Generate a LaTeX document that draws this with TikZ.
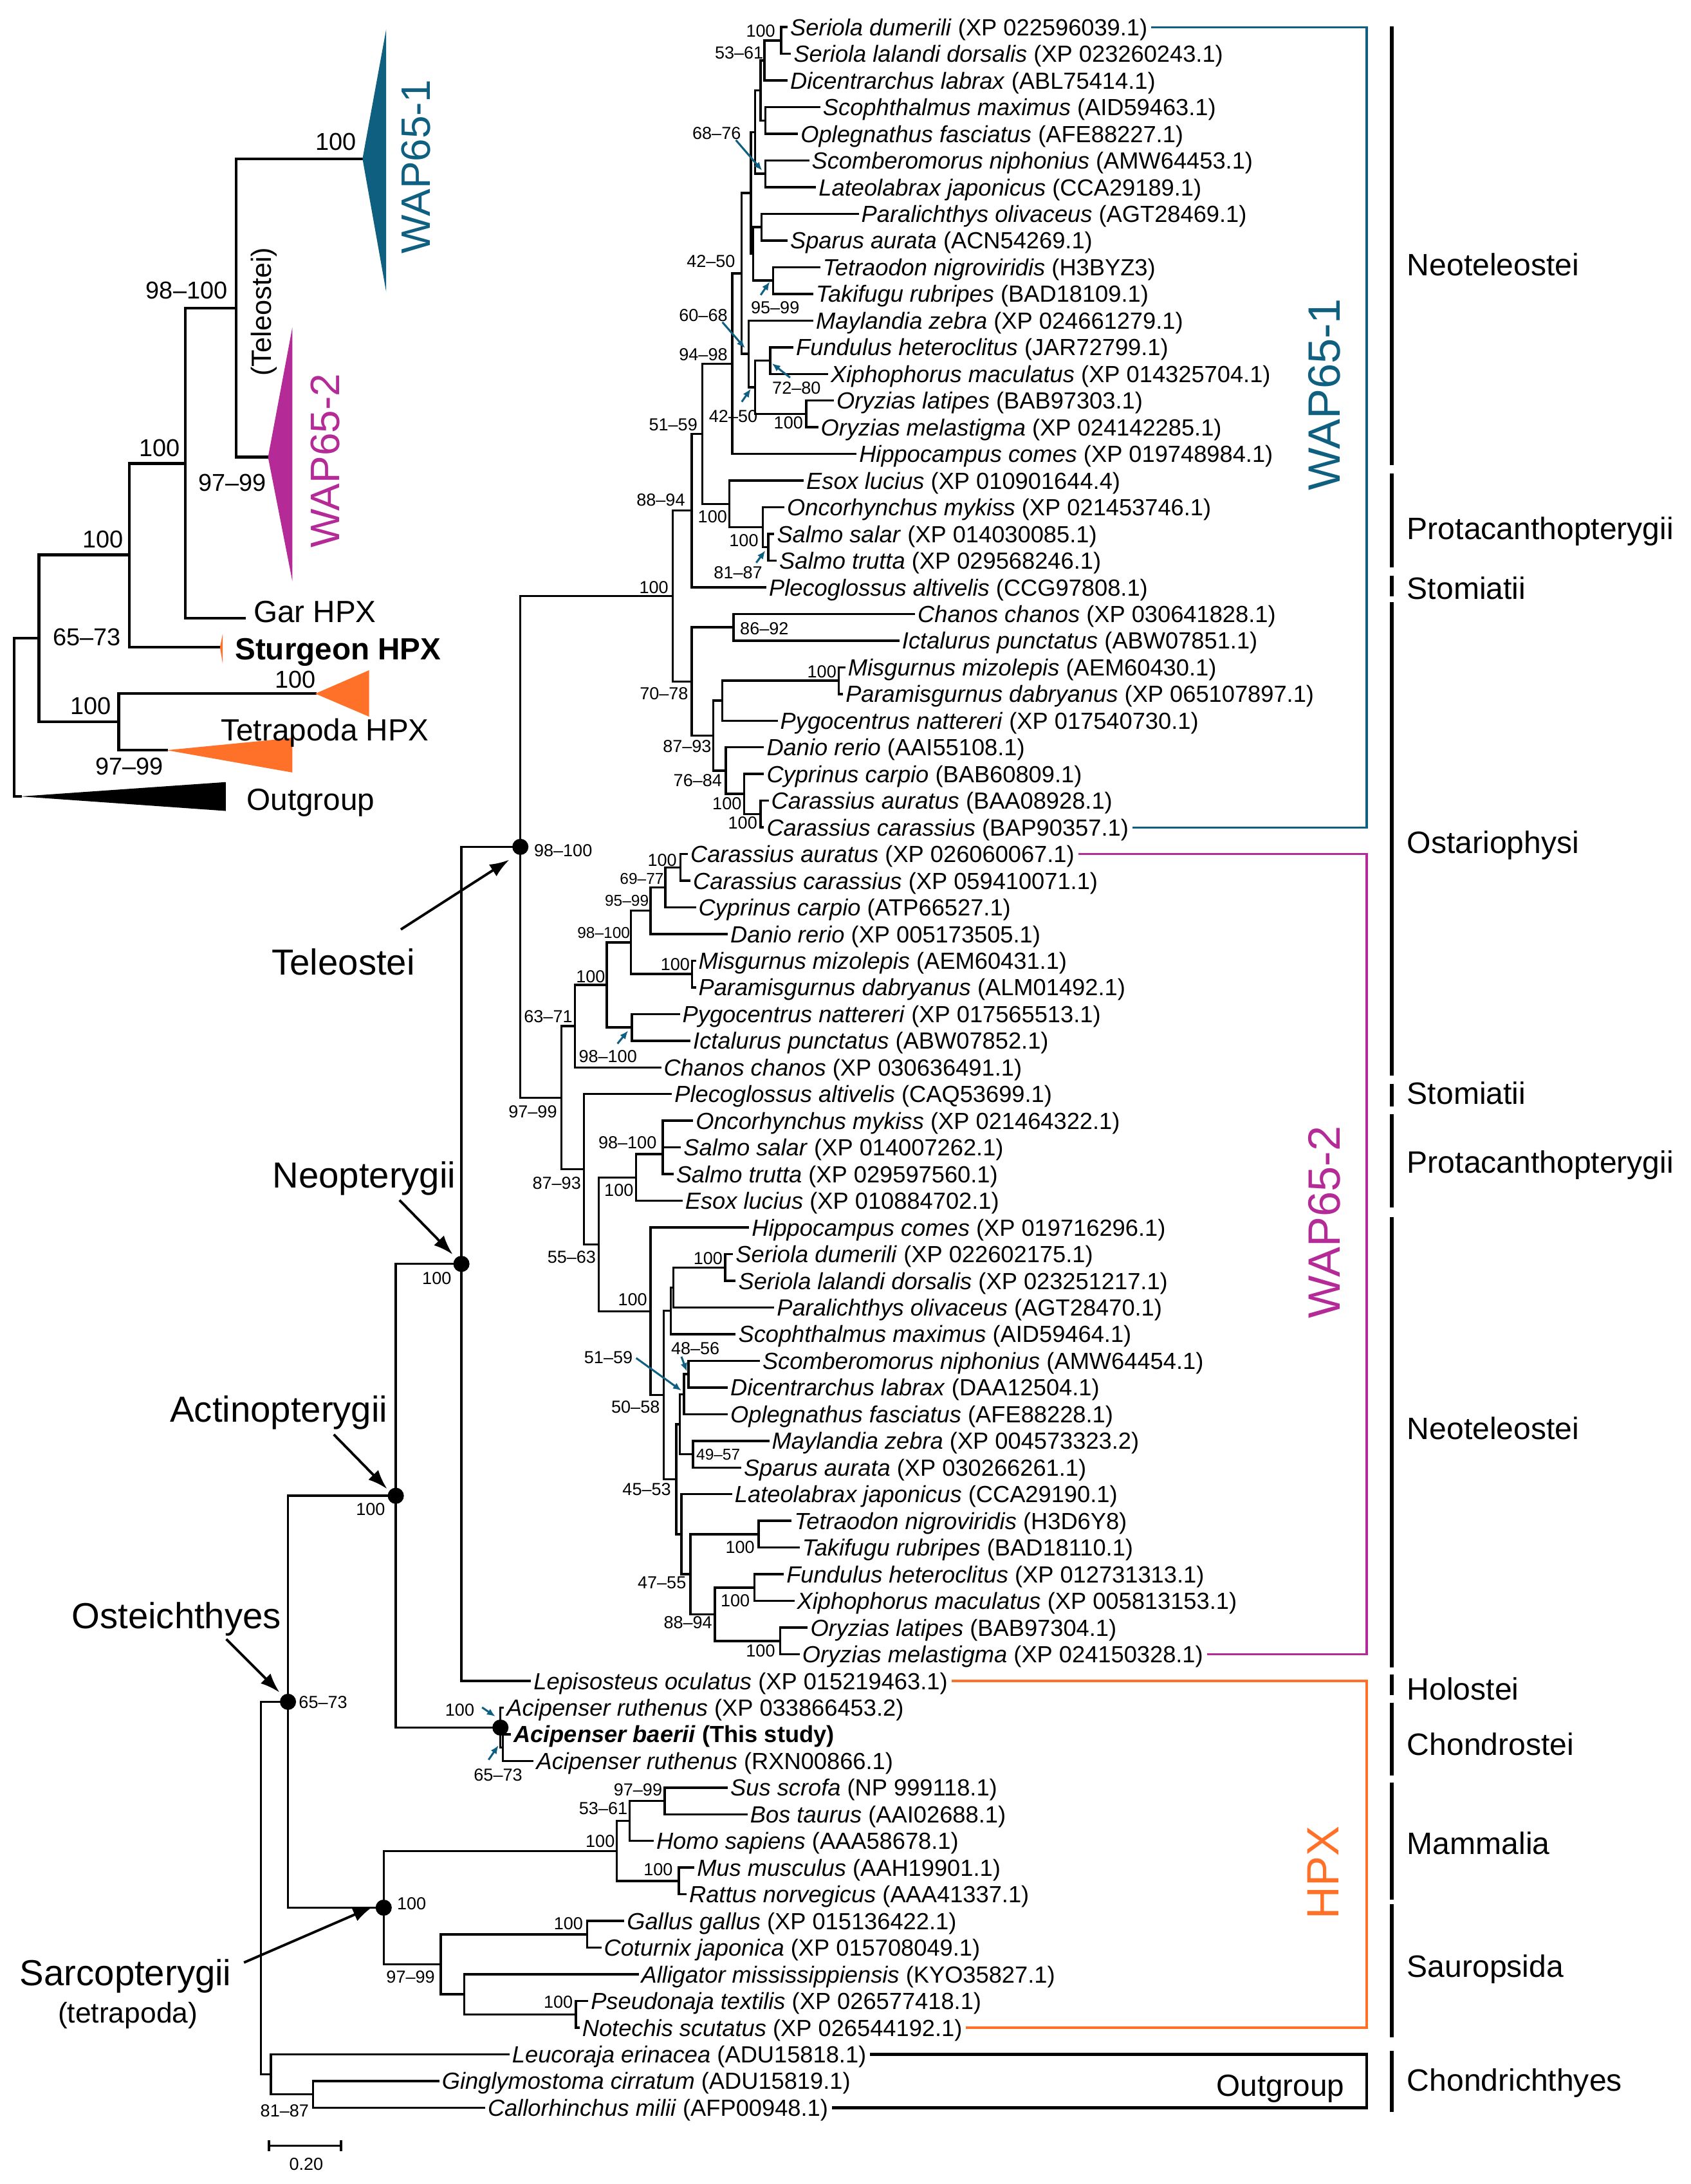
\documentclass[tikz,border=0pt]{standalone}
\usepackage{fontspec}
\setmainfont{Liberation Sans}
\usetikzlibrary{arrows.meta}
\definecolor{wteal}{HTML}{0E5F80}
\definecolor{wmag}{HTML}{B42A96}
\definecolor{hor}{HTML}{FF7028}
\newcommand{\tipleaf}[5]{\coordinate (L#1) at (#2,#3);\node[tip] (t#1) at (L#1) {\textit{#4} (#5)};}
\newcommand{\kids}[2]{\foreach \ch in {#2}{\draw[br] (#1) |- (\ch);}}
\begin{document}
\begin{tikzpicture}[x=1pt,y=-1pt,
 br/.style={line width=1.6pt, line cap=rect},
 ibr/.style={line width=2pt, line cap=rect},
 tip/.style={anchor=west, inner xsep=2.5pt, inner ysep=0pt, text height=12.06pt, text depth=0pt, font=\fontsize{16.75}{18}\selectfont},
 bs/.style={inner sep=0pt, text height=8.95pt, text depth=0pt, font=\fontsize{12.5}{14}\selectfont},
 bss/.style={inner sep=0pt, text height=8.1pt, text depth=0pt, font=\fontsize{11.3}{13}\selectfont},
 ibs/.style={inner sep=0pt, text height=12.5pt, text depth=0pt, font=\fontsize{17.5}{20}\selectfont},
 ilab/.style={anchor=west, inner sep=0pt, text height=15.75pt, text depth=0pt, font=\fontsize{22}{26}\selectfont},
 clade/.style={anchor=base west, inner sep=0pt, font=\fontsize{26}{30}\selectfont},
 grp/.style={anchor=west, inner sep=0pt, text height=15.9pt, text depth=0pt, font=\fontsize{22.2}{26}\selectfont},
 bigl/.style={rotate=90, inner sep=0pt, text height=23.3pt, text depth=0pt, font=\fontsize{32.5}{36}\selectfont},
 ibig/.style={rotate=90, inner sep=0pt, text height=21.1pt, text depth=0pt, font=\fontsize{29.5}{33}\selectfont},
 dot/.style={circle, fill=black, inner sep=0pt, minimum size=11.6pt},
 bar/.style={line width=2.4pt},
 bigarrow/.style={line width=1.8pt, -{Latex[length=14pt,width=10pt]}},
 tarrow/.style={draw=wteal, line width=1.4pt, -{Latex[length=6pt,width=5pt]}},
 brk/.style={line width=1.5pt},
]
\useasboundingbox (0,0) rectangle (1213.3,1568);
\fill[white] (0,0) rectangle (1213.3,1568);

% ---------------- inset ----------------
\coordinate (iRoot) at (10.2,515);
\coordinate (iA) at (28,458.1);
\coordinate (iB) at (92.8,398.4);
\coordinate (iC) at (133.1,332.8);
\coordinate (iTel) at (169.5,221.1);
\coordinate (iT) at (85.2,518.3);
\coordinate (iW1) at (260.2,114);
\coordinate (iW2) at (192.4,328.2);
\coordinate (iGar) at (175.5,443.7);
\coordinate (iSt) at (157.9,464.7);
\coordinate (iTu) at (226.3,498);
\coordinate (iTl) at (119.7,538.6);
\coordinate (iOg) at (14.8,571.8);
\coordinate (iW1a) at (277.2,21);   \coordinate (iW1b) at (277.2,209.6);
\coordinate (iW2a) at (209.8,235.2); \coordinate (iW2b) at (209.8,417);
\coordinate (iTua) at (264.9,481.2); \coordinate (iTub) at (264.9,514.5);
\coordinate (iTla) at (209.8,529.8); \coordinate (iTlb) at (209.8,554.6);
\coordinate (iOga) at (162.1,561.5); \coordinate (iOgb) at (162.1,582.2);
\coordinate (iSta) at (159.8,455.2); \coordinate (iStb) at (159.8,476.2);
\foreach \p/\c in {iRoot/iA,iRoot/iOg,iA/iB,iA/iT,iB/iC,iB/iSt,iC/iTel,iC/iGar,iTel/iW1,iTel/iW2,iT/iTu,iT/iTl}{\draw[ibr] (\p) |- (\c);}
\fill[wteal] (iW1) -- (iW1a) -- (iW1b) -- cycle;
\fill[wmag] (iW2) -- (iW2a) -- (iW2b) -- cycle;
\fill[hor] (iTu) -- (iTua) -- (iTub) -- cycle;
\fill[hor] (iTl) -- (iTla) -- (iTlb) -- cycle;
\fill[black] (iOg) -- (iOga) -- (iOgb) -- cycle;
\fill[hor] (iSt) -- (iSta) -- (iStb) -- cycle;
\foreach \x/\y/\t [count=\i] in {241/101.4/100, 134/208.5/98--100, 114.4/321.3/100, 166.6/346.2/97--99, 74/387.1/100, 62.3/457.1/65--73, 212.2/487.7/100, 65.2/506.8/100, 92.8/550/97--99}{\node[ibs] (ib\i) at (\x,\y) {\t};}
\node[ibig, text=wteal] (iw1lab) at (298.2,119.6) {WAP65-1};
\node[ibig, text=wmag] (iw2lab) at (233.1,330.9) {WAP65-2};
\node[rotate=90, inner sep=0pt, font=\fontsize{20}{24}\selectfont] (itel) at (189.6,223.8) {(Teleostei)};
\node[ilab] (igar) at (181.8,438.9) {Gar HPX};
\node[ilab] (istu) at (168.5,465.7) {\textbf{Sturgeon HPX}};
\node[ilab] (itet) at (158.5,524) {Tetrapoda HPX};
\node[ilab] (iout) at (176.9,574) {Outgroup};

% ---------------- leaves ----------------
\tipleaf{1}{564.5}{19.5}{Seriola dumerili}{XP 022596039.1}
\tipleaf{2}{567}{38.65}{Seriola lalandi dorsalis}{XP 023260243.1}
\tipleaf{3}{564.5}{57.8}{Dicentrarchus labrax}{ABL75414.1}
\tipleaf{4}{588}{76.95}{Scophthalmus maximus}{AID59463.1}
\tipleaf{5}{572}{96.1}{Oplegnathus fasciatus}{AFE88227.1}
\tipleaf{6}{580}{115.25}{Scomberomorus niphonius}{AMW64453.1}
\tipleaf{7}{585}{134.4}{Lateolabrax japonicus}{CCA29189.1}
\tipleaf{8}{615.6}{153.55}{Paralichthys olivaceus}{AGT28469.1}
\tipleaf{9}{564.5}{172.7}{Sparus aurata}{ACN54269.1}
\tipleaf{10}{588}{191.85}{Tetraodon nigroviridis}{H3BYZ3}
\tipleaf{11}{583}{211}{Takifugu rubripes}{BAD18109.1}
\tipleaf{12}{583}{230.15}{Maylandia zebra}{XP 024661279.1}
\tipleaf{13}{568.7}{249.3}{Fundulus heteroclitus}{JAR72799.1}
\tipleaf{14}{593.6}{268.45}{Xiphophorus maculatus}{XP 014325704.1}
\tipleaf{15}{597.8}{287.6}{Oryzias latipes}{BAB97303.1}
\tipleaf{16}{586.5}{306.75}{Oryzias melastigma}{XP 024142285.1}
\tipleaf{17}{614}{325.9}{Hippocampus comes}{XP 019748984.1}
\tipleaf{18}{576.1}{345.05}{Esox lucius}{XP 010901644.4}
\tipleaf{19}{562.2}{364.2}{Oncorhynchus mykiss}{XP 021453746.1}
\tipleaf{20}{555}{383.35}{Salmo salar}{XP 014030085.1}
\tipleaf{21}{556.7}{402.5}{Salmo trutta}{XP 029568246.1}
\tipleaf{22}{549.3}{421.65}{Plecoglossus altivelis}{CCG97808.1}
\tipleaf{23}{656}{440.8}{Chanos chanos}{XP 030641828.1}
\tipleaf{24}{644.8}{459.95}{Ictalurus punctatus}{ABW07851.1}
\tipleaf{25}{606}{479.1}{Misgurnus mizolepis}{AEM60430.1}
\tipleaf{26}{604.3}{498.25}{Paramisgurnus dabryanus}{XP 065107897.1}
\tipleaf{27}{557.4}{517.4}{Pygocentrus nattereri}{XP 017540730.1}
\tipleaf{28}{547.6}{536.55}{Danio rerio}{AAI55108.1}
\tipleaf{29}{547.6}{555.7}{Cyprinus carpio}{BAB60809.1}
\tipleaf{30}{550.9}{574.85}{Carassius auratus}{BAA08928.1}
\tipleaf{31}{547.6}{594}{Carassius carassius}{BAP90357.1}
\tipleaf{32}{492.9}{613.15}{Carassius auratus}{XP 026060067.1}
\tipleaf{33}{494.8}{632.3}{Carassius carassius}{XP 059410071.1}
\tipleaf{34}{498.7}{651.45}{Cyprinus carpio}{ATP66527.1}
\tipleaf{35}{521.6}{670.6}{Danio rerio}{XP 005173505.1}
\tipleaf{36}{498.7}{689.75}{Misgurnus mizolepis}{AEM60431.1}
\tipleaf{37}{498.7}{708.9}{Paramisgurnus dabryanus}{ALM01492.1}
\tipleaf{38}{487.2}{728.05}{Pygocentrus nattereri}{XP 017565513.1}
\tipleaf{39}{494.8}{747.2}{Ictalurus punctatus}{ABW07852.1}
\tipleaf{40}{473.8}{766.35}{Chanos chanos}{XP 030636491.1}
\tipleaf{41}{481.5}{785.5}{Plecoglossus altivelis}{CAQ53699.1}
\tipleaf{42}{496.7}{804.65}{Oncorhynchus mykiss}{XP 021464322.1}
\tipleaf{43}{488}{823.8}{Salmo salar}{XP 014007262.1}
\tipleaf{44}{482.6}{842.95}{Salmo trutta}{XP 029597560.1}
\tipleaf{45}{489.1}{862.1}{Esox lucius}{XP 010884702.1}
\tipleaf{46}{536.9}{881.25}{Hippocampus comes}{XP 019716296.1}
\tipleaf{47}{525.4}{900.4}{Seriola dumerili}{XP 022602175.1}
\tipleaf{48}{527.3}{919.55}{Seriola lalandi dorsalis}{XP 023251217.1}
\tipleaf{49}{554.9}{938.7}{Paralichthys olivaceus}{AGT28470.1}
\tipleaf{50}{527.3}{957.85}{Scophthalmus maximus}{AID59464.1}
\tipleaf{51}{544.6}{977}{Scomberomorus niphonius}{AMW64454.1}
\tipleaf{52}{521.6}{996.15}{Dicentrarchus labrax}{DAA12504.1}
\tipleaf{53}{521.6}{1015.3}{Oplegnathus fasciatus}{AFE88228.1}
\tipleaf{54}{551.4}{1034.45}{Maylandia zebra}{XP 004573323.2}
\tipleaf{55}{531.2}{1053.6}{Sparus aurata}{XP 030266261.1}
\tipleaf{56}{524.7}{1072.75}{Lateolabrax japonicus}{CCA29190.1}
\tipleaf{57}{567.5}{1091.9}{Tetraodon nigroviridis}{H3D6Y8}
\tipleaf{58}{573.2}{1111.05}{Takifugu rubripes}{BAD18110.1}
\tipleaf{59}{561.8}{1130.2}{Fundulus heteroclitus}{XP 012731313.1}
\tipleaf{60}{569.4}{1149.35}{Xiphophorus maculatus}{XP 005813153.1}
\tipleaf{61}{579}{1168.5}{Oryzias latipes}{BAB97304.1}
\tipleaf{62}{573.2}{1187.65}{Oryzias melastigma}{XP 024150328.1}
\tipleaf{63}{380.4}{1206.8}{Lepisosteus oculatus}{XP 015219463.1}
\tipleaf{64}{361}{1225.95}{Acipenser ruthenus}{XP 033866453.2}
\coordinate (L65) at (366,1245.1);
\node[tip] (t65) at (L65) {\textbf{\textit{Acipenser baerii} (This study)}};
\tipleaf{66}{382.3}{1264.25}{Acipenser ruthenus}{RXN00866.1}
\tipleaf{67}{521.6}{1283.4}{Sus scrofa}{NP 999118.1}
\tipleaf{68}{535.8}{1302.55}{Bos taurus}{AAI02688.1}
\tipleaf{69}{468.4}{1321.7}{Homo sapiens}{AAA58678.1}
\tipleaf{70}{497.6}{1340.85}{Mus musculus}{AAH19901.1}
\tipleaf{71}{492}{1360}{Rattus norvegicus}{AAA41337.1}
\tipleaf{72}{447.3}{1379.15}{Gallus gallus}{XP 015136422.1}
\tipleaf{73}{430.8}{1398.3}{Coturnix japonica}{XP 015708049.1}
\tipleaf{74}{457.6}{1417.45}{Alligator mississippiensis}{KYO35827.1}
\tipleaf{75}{421.4}{1436.6}{Pseudonaja textilis}{XP 026577418.1}
\tipleaf{76}{415.2}{1455.75}{Notechis scutatus}{XP 026544192.1}
\tipleaf{77}{364.9}{1474.9}{Leucoraja erinacea}{ADU15818.1}
\tipleaf{78}{314.5}{1494.05}{Ginglymostoma cirratum}{ADU15819.1}
\tipleaf{79}{347.4}{1513.2}{Callorhinchus milii}{AFP00948.1}

% ---------------- internal nodes ----------------
\foreach \n/\x/\y in {nA/560.6/29.1, nB/548.6/43.45, nC/549.3/86.5, nD/546/65, nE/549.3/124.8, nF/542.1/94.9, nG/546.7/163.1, nH/554.8/201.4, nJ/540.5/182.3, nFGH/538.9/138.6, nFX/552.8/258.9, nOr/578.7/297.2, nFXO/542.1/278, nMay/537.3/254.1, nK/532.4/196.3, nL/525.6/261.1, nSm/551.5/392.9, nSal/547.6/378.6, nEs/523.4/361.8, nN/504/311.5, nO/496.5/366.6, nR/526.6/450.4, nMg/602/488.7, nT/518.5/503, nW/546/584.4, nV/534.1/570, nU/521/553.3, nS/512/528.2, nQ/496.5/489.3, nP/482.9/428, nDD/488.3/622.7, nCC/477.6/637.1, nBB/466.9/653.8, nMgb/496.7/699.3, nAA/452.8/676.6, nPI/453.5/737.6, nZ/435.5/707.1, nY/412.6/736.7, nHH/475.7/828.6, nGG/456.6/845.4, nSe/520.5/910, nSa/483.4/924.3, nSb/481.4/941.1, nMM/494.1/986.6, nNN/491/1001, nOO/497.5/1044, nPP/488/1022.5, nTT/544.6/1101.5, nFXb/541.5/1139.8, nOrb/559.9/1178.1, nQQ/513.2/1159, nRR/495.6/1130.2, nSS/489.1/1101.5, nKK/485.3/1062, nJJ/476.5/1001.5, nII/466.9/941.4, nFF/429.8/893.4, nEE/419.1/839.5, nX/403/788.1, nTel/373.5/608, nNeo/331.2/907.4, nAcb/361/1254.7, nAc/359.2/1240.3, nAct/284.1/1073.9, nSB/477/1293, nSBH/452/1307.3, nMR/487.3/1350.4, nMam/442.6/1328.9, nGC/421.4/1388.7, nPN/413.4/1446.2, nAPN/333.3/1431.8, nSau/316.4/1410.3, nSar/275.4/1369.6, nOst/206.7/1221.8, nGCal/224.6/1503.6, nOut/194.4/1489.3, nRoot/187.4/1355.5}{\coordinate (\n) at (\x,\y);}

\kids{nA}{L1,L2} \kids{nB}{nA,L3} \kids{nC}{L4,L5} \kids{nD}{nB,nC}
\kids{nE}{L6,L7} \kids{nF}{nD,nE} \kids{nG}{L8,L9} \kids{nH}{L10,L11}
\kids{nJ}{nG,nH} \kids{nFGH}{nF,nJ} \kids{nFX}{L13,L14} \kids{nOr}{L15,L16}
\kids{nFXO}{nFX,nOr} \kids{nMay}{L12,nFXO} \kids{nK}{nFGH,nMay} \kids{nL}{nK,L17}
\kids{nSm}{L20,L21} \kids{nSal}{L19,nSm} \kids{nEs}{L18,nSal} \kids{nN}{nL,nEs}
\kids{nO}{nN,L22} \kids{nR}{L23,L24} \kids{nMg}{L25,L26} \kids{nT}{nMg,L27}
\kids{nW}{L30,L31} \kids{nV}{L29,nW} \kids{nU}{L28,nV} \kids{nS}{nT,nU}
\kids{nQ}{nR,nS} \kids{nP}{nO,nQ}
\kids{nDD}{L32,L33} \kids{nCC}{nDD,L34} \kids{nBB}{nCC,L35} \kids{nMgb}{L36,L37}
\kids{nAA}{nBB,nMgb} \kids{nPI}{L38,L39} \kids{nZ}{nAA,nPI} \kids{nY}{nZ,L40}
\kids{nHH}{L42,L43,L44} \kids{nGG}{nHH,L45}
\kids{nSe}{L47,L48} \kids{nSa}{nSe,L49} \kids{nSb}{nSa,L50}
\kids{nMM}{L51,L52} \kids{nNN}{nMM,L53} \kids{nOO}{L54,L55} \kids{nPP}{nNN,nOO}
\kids{nTT}{L57,L58} \kids{nFXb}{L59,L60} \kids{nOrb}{L61,L62} \kids{nQQ}{nFXb,nOrb}
\kids{nRR}{nTT,nQQ} \kids{nSS}{L56,nRR} \kids{nKK}{nPP,nSS} \kids{nJJ}{nSb,nKK}
\kids{nII}{L46,nJJ} \kids{nFF}{nGG,nII} \kids{nEE}{L41,nFF} \kids{nX}{nY,nEE}
\kids{nTel}{nP,nX} \kids{nNeo}{nTel,L63}
\kids{nAcb}{L65,L66} \kids{nAc}{L64,nAcb} \kids{nAct}{nNeo,nAc}
\kids{nSB}{L67,L68} \kids{nSBH}{nSB,L69} \kids{nMR}{L70,L71} \kids{nMam}{nSBH,nMR}
\kids{nGC}{L72,L73} \kids{nPN}{L75,L76} \kids{nAPN}{L74,nPN} \kids{nSau}{nGC,nAPN}
\kids{nSar}{nMam,nSau} \kids{nOst}{nAct,nSar}
\kids{nGCal}{L78,L79} \kids{nOut}{L77,nGCal} \kids{nRoot}{nOst,nOut}

\foreach \n in {nTel,nNeo,nAct,nOst,nAc,nSar}{\node[dot] (d\n) at (\n) {};}

% ---------------- support values ----------------
\foreach \x/\y/\t [count=\i] in {546/22.2/100, 530.5/37.7/53--61, 514.4/95.3/68--76, 510.3/187.4/42--50, 556.4/220.7/95--99, 504.8/226.2/60--68, 504.8/254.2/94--98, 571.7/278.5/72--80, 526.3/298.6/42--50, 565.9/303.3/100, 483.2/304.6/51--59, 474.3/358.8/88--94, 511.4/371/100, 533.9/387.9/100, 529.8/410.8/81--87, 469.3/421.5/100, 548.6/451.2/86--92, 589.9/482.3/100, 476.6/497.8/70--78, 493.2/535.5/87--93, 500.8/560.3/76--84, 521.8/576.8/100, 533.1/590.4/100, 404.2/610.4/98--100, 475.3/617.3/100, 484.7/692.1/100, 423.9/700.8/100, 393.5/729.5/63--71, 436.3/758.1/98--100, 382.4/797.9/97--99, 450.4/820.2/98--100, 399.6/849.3/87--93, 444.2/854.2/100, 410.3/902.4/55--63, 313.5/917.5/100, 508.2/903.1/100, 454.1/932.7/100, 499.1/968.1/48--56, 436.7/974.5/51--59, 456.2/1010/50--58, 464.2/1069.3/45--53, 266/1083.5/100, 531.2/1110.6/100, 475.1/1136/47--55, 527.7/1148.8/100, 493.8/1164.7/88--94, 545.9/1184.8/100, 231.9/1221.9/65--73, 330/1227.5/100, 357.5/1274.2/65--73, 457.9/1285/97--99, 433/1298.2/53--61, 430.8/1321.7/100, 472.4/1341.9/100, 295.4/1366.5/100, 408/1381/100, 294.7/1419.3/97--99, 400.7/1437.3/100, 204.3/1515.2/81--87, 219.8/1553.6/0.20}{\node[bs] (bs\i) at (\x,\y) {\t};}
\foreach \x/\y/\t [count=\i] in {460.7/630.9/69--77, 449.9/646.4/95--99, 433.3/669.7/98--100, 515.5/1044.3/49--57}{\node[bss] (bss\i) at (\x,\y) {\t};}

% teal pointer arrows
\foreach \ax/\ay/\bx/\by [count=\i] in {528.2/100.6/547/122.4, 546/211.8/552.5/202.3, 518.5/231.3/534.7/249.9, 567.1/271.1/554.1/260.9, 532.4/288.5/538.9/279.2, 542.8/404/549.3/395.3, 443.2/749.3/450.8/740, 456.6/975/489.1/998.4, 489.1/974/493/984.6, 346/1225.8/355.5/1232.3, 350.7/1263.4/357.8/1253.1}{\coordinate (ta\i) at (\ax,\ay); \coordinate (tb\i) at (\bx,\by); \draw[tarrow] (ta\i) -- (tb\i);}

% scale bar
\coordinate (sb0) at (193,1540.4); \coordinate (sb1) at (244.8,1540.4);
\draw[line width=1.6pt] (sb0) -- (sb1);
\draw[line width=1.6pt] (sb0) ++(0,-4) -- ++(0,8);
\draw[line width=1.6pt] (sb1) ++(0,-4) -- ++(0,8);

% ---------------- clade labels with arrows ----------------
\node[clade] (lTel) at (194.9,699.8) {Teleostei};
\node[clade] (lNeo) at (195.4,852.8) {Neopterygii};
\node[clade] (lAct) at (121.9,1021.1) {Actinopterygii};
\node[clade] (lOst) at (51.3,1169.1) {Osteichthyes};
\node[clade] (lSar) at (14.1,1425.3) {Sarcopterygii};
\node[anchor=base west, inner sep=0pt, font=\fontsize{20.5}{24}\selectfont] (lTet) at (41.4,1452.5) {(tetrapoda)};
\foreach \n/\ax/\ay/\bx/\by in {Tel/287.7/667.3/365.5/617.3, Neo/286.7/861.6/324.9/900.6, Act/239.6/1029.9/277.8/1068.9, Ost/162.4/1176.8/200.6/1215, Sar/175.1/1409/267.4/1369}{\coordinate (a\n0) at (\ax,\ay); \coordinate (a\n1) at (\bx,\by); \draw[bigarrow] (a\n0) -- (a\n1);}

% ---------------- coloured brackets ----------------
\coordinate (bx) at (981,0);
\draw[brk, wteal] (t1.east) -| (t31.east -| bx) -- (t31.east);
\draw[brk, wmag] (t32.east) -| (t62.east -| bx) -- (t62.east);
\draw[line width=2pt, hor] (t63.east) -| (t76.east -| bx) -- (t76.east);
\draw[line width=2pt, black] (t77.east) -| (t79.east -| bx) -- (t79.east);
\node[bigl, text=wteal] (wap1) at (950,283.2) {WAP65-1};
\node[bigl, text=wmag] (wap2) at (950,877.4) {WAP65-2};
\node[bigl, text=hor] (hpx) at (949.3,1344.3) {HPX};
\node[inner sep=0pt, text height=15.75pt, text depth=0pt, font=\fontsize{22}{26}\selectfont] (ogl) at (919,1497) {Outgroup};

% ---------------- taxonomic bars ----------------
\foreach \a/\b in {19.1/333.9, 339.8/407.5, 413.4/428, 432.5/772, 778.1/794.2, 799.9/866.9, 873.7/1197, 1202.1/1217.1, 1222.4/1274.5, 1279.8/1364, 1367.2/1462.8, 1472.5/1516.2}{\draw[bar] (999,\a) -- (999,\b);}
\foreach \y/\t [count=\i] in {189.8/Neoteleostei, 379.5/Protacanthopterygii, 422.2/Stomiatii, 604.8/Ostariophysi, 784.6/Stomiatii, 834.3/Protacanthopterygii, 1025.6/Neoteleostei, 1212.6/Holostei, 1252.1/Chondrostei, 1323.2/Mammalia, 1411.4/Sauropsida, 1493.1/Chondrichthyes}{\node[grp] (g\i) at (1009.8,\y) {\t};}
\end{tikzpicture}
\end{document}
